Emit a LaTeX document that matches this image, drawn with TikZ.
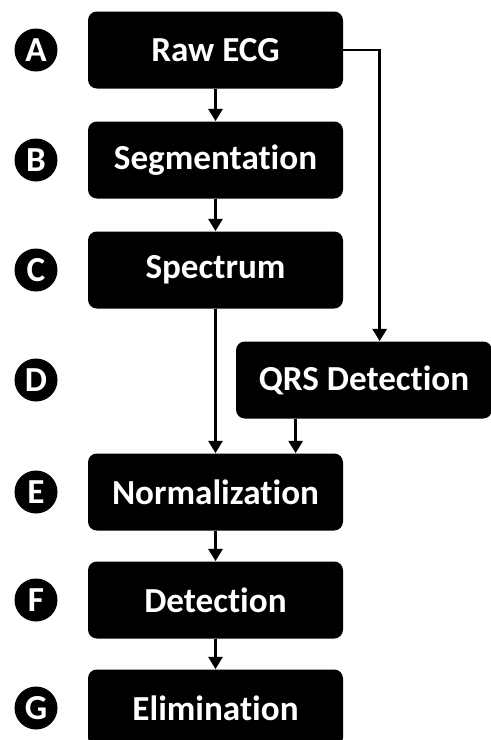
\documentclass[tikz,border=0pt]{standalone}
\usepackage{fontspec}
\setmainfont{Carlito}[Ligatures=NoCommon]
\usetikzlibrary{arrows.meta}

\tikzset{
	stage/.style = {fill=black, rounded corners=5pt, minimum width=5.1cm, minimum height=1.54cm,
		text=white, font=\bfseries\fontsize{20}{24}\selectfont},
	tag/.style = {circle, fill=black, minimum size=0.86cm, inner sep=0pt,
		text=white, font=\bfseries\fontsize{20}{24}\selectfont},
	flow/.style = {-{Triangle[width=8pt,length=7pt]}, line width=1.6pt}
}

\begin{document}
\begin{tikzpicture}
	\useasboundingbox (0,0) rectangle (9.8,-14.8);
	% stages
	\node[stage] (raw) at (4.31,-1.0) {Raw ECG};
	\node[stage] (seg) at (4.31,-3.2) {Segmentation};
	\node[stage] (spec) at (4.31,-5.4) {Spectrum};
	\node[stage, minimum width=5.12cm] (qrs) at (7.28,-7.6) {QRS Detection};
	\node[stage] (norm) at (4.31,-9.84) {Normalization};
	\node[stage] (det) at (4.31,-12.0) {Detection};
	\node[stage] (elim) at (4.31,-14.16) {Elimination};
	% step letters
	\node[tag] (tagA) at (0.72,-1.0) {A};
	\node[tag] (tagB) at (0.72,-3.2) {B};
	\node[tag] (tagC) at (0.72,-5.4) {C};
	\node[tag] (tagD) at (0.72,-7.6) {D};
	\node[tag] (tagE) at (0.72,-9.84) {E};
	\node[tag] (tagF) at (0.72,-12.0) {F};
	\node[tag] (tagG) at (0.72,-14.16) {G};
	% arrows
	\draw[flow] (raw) -- (seg);
	\draw[flow] (seg) -- (spec);
	\draw[flow] (spec) -- (norm);
	\draw[flow] (raw.east) -| ([xshift=2.88cm]qrs.north west);
	\draw[flow] ([xshift=1.2cm]qrs.south west) -- ([xshift=1.2cm]qrs.south west |- norm.north);
	\draw[flow] (norm) -- (det);
	\draw[flow] (det) -- (elim);
\end{tikzpicture}
\end{document}
